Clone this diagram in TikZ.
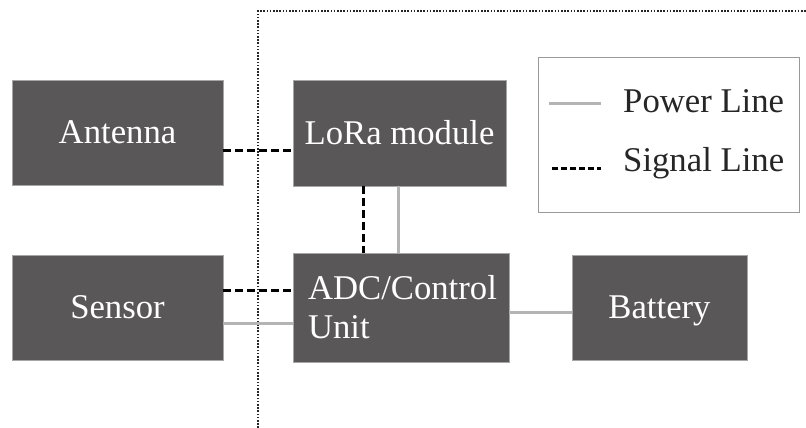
\documentclass[tikz,border=0pt]{standalone}
\usepackage{fontspec}
\setmainfont{Liberation Serif}
\begin{document}
\begin{tikzpicture}[x=1pt,y=-1pt,
  block/.style={fill=boxgray,draw=gray!70,line width=0.4pt,text=white,inner sep=0pt,
    font=\fontsize{34.7}{39}\selectfont},
  oneline/.style={text height=22pt,text depth=0pt},
  powerline/.style={draw=powergray,line width=3pt},
  signalline/.style={draw=black,line width=3pt,dash pattern=on 8pt off 4pt},
  legtext/.style={anchor=base west,inner sep=0pt,font=\fontsize{34.7}{39}\selectfont,text=black!85}]
\definecolor{boxgray}{HTML}{5A5758}
\definecolor{powergray}{HTML}{B4B4B4}
\useasboundingbox (0,0) rectangle (806,428);
\fill[white] (0,0) rectangle (806,428);

% dotted enclosure of the sensor node
\coordinate (db) at (258,428);
\coordinate (dc) at (258,11);
\coordinate (dr) at (806,11);
\draw[black!85,line width=1.6pt,dash pattern=on 1.6pt off 1.6pt] (db) -- (dc) -- (dr);

% blocks
\node[block,oneline,minimum width=211pt,minimum height=105pt] (ant) at (117.5,132.5) {Antenna};
\node[block,oneline,minimum width=213pt,minimum height=106pt] (lora) at (399.5,133) {LoRa module};
\node[block,oneline,minimum width=211pt,minimum height=105pt] (sen) at (117.5,307.5) {Sensor};
\node[block,minimum width=216pt,minimum height=109pt,text width=186pt,inner xsep=15pt,align=left] (adc) at (401,307.5) {ADC/Control\\Unit};
\node[block,oneline,minimum width=175pt,minimum height=105pt] (bat) at (659.5,307.5) {Battery};

% connectors
\draw[signalline] ([yshift=-17.5pt]ant.east) -- ([yshift=-17pt]lora.west);
\draw[signalline] ([yshift=17.5pt]sen.east) -- ([yshift=17.5pt]adc.west);
\draw[powerline] ([yshift=-15.5pt]sen.east) -- ([yshift=-15.5pt]adc.west);
\draw[signalline] ([xshift=-36.5pt]lora.south) -- ([xshift=-38pt]adc.north);
\draw[powerline] ([xshift=-1.5pt]lora.south) -- ([xshift=-3pt]adc.north);
\draw[powerline] ([yshift=-4.5pt]adc.east) -- ([yshift=-4.5pt]bat.west);

% legend
\node[draw=gray!80,line width=0.8pt,minimum width=261pt,minimum height=155pt,inner sep=0pt] (leg) at (668.5,134.5) {};
\coordinate (pa) at (549,103);
\coordinate (pb) at (601,103);
\coordinate (sa) at (552,168);
\coordinate (sb) at (601,168);
\draw[powerline] (pa) -- (pb);
\draw[black,line width=3pt,dash pattern=on 6pt off 3pt] (sa) -- (sb);
\node[legtext] (lp) at (623,112) {Power Line};
\node[legtext] (ls) at (623,171) {Signal Line};
\end{tikzpicture}
\end{document}
